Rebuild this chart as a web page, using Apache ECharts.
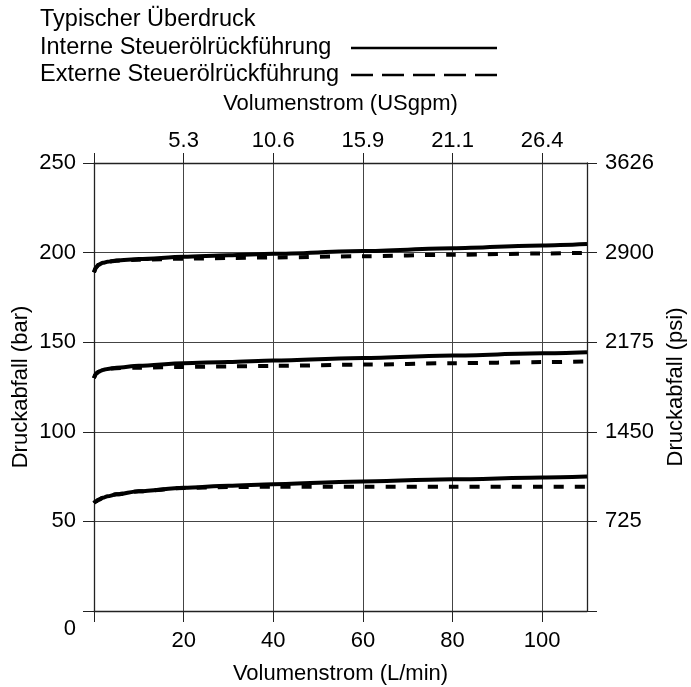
<!DOCTYPE html>
<html>
<head>
<meta charset="utf-8">
<script src="https://cdn.jsdelivr.net/npm/echarts@6/dist/echarts.min.js"></script>
<style>
  html, body { margin: 0; padding: 0; background: #fff; }
  #chart { width: 691px; height: 687px; }
</style>
</head>
<body>
<div id="chart"></div>
<script>
// Volumenstrom in L/min
var flow = [0, 0.5, 1, 2, 3, 5, 10, 20, 30, 40, 60, 80, 100, 110];

// Druckabfall in bar, drei Einstellungen
var highIntern = [189, 191.8, 193.2, 194.3, 194.9, 195.6, 196.4, 197.7, 198.5, 199.3, 200.9, 202.4, 204, 204.8];
var highExtern = [189, 191.8, 193.2, 194.3, 194.9, 195.5, 196, 196.6, 197, 197.3, 198, 198.8, 199.5, 199.9];
var midIntern = [130, 132.5, 133.5, 134.5, 135.1, 135.8, 136.8, 138.3, 139, 139.8, 141.2, 142.6, 143.8, 144.4];
var midExtern = [130, 132.5, 133.5, 134.5, 135, 135.5, 135.8, 136.2, 136.5, 136.8, 137.5, 138.3, 138.9, 139.2];
var lowIntern = [60.3, 61.3, 62.1, 63.2, 64, 65.1, 66.8, 68.8, 69.9, 70.8, 72.3, 73.5, 74.5, 75];
var lowExtern = [60.3, 61.3, 62.1, 63.2, 64, 65.1, 66.8, 68.6, 69.2, 69.3, 69.4, 69.4, 69.3, 69.3];

// Achsbeschriftungen
var flowTicks = [20, 40, 60, 80, 100];
var usgpmLabels = ['5.3', '10.6', '15.9', '21.1', '26.4'];
var barTicks = [0, 50, 100, 150, 200, 250];
var psiLabels = ['', '725', '1450', '2175', '2900', '3626'];

var nameIntern = 'Interne Steuerölrückführung';
var nameExtern = 'Externe Steuerölrückführung';

function pairs(ys) {
  return flow.map(function (x, i) { return [x, ys[i]]; });
}

var chartDom = document.getElementById('chart');
var myChart = echarts.init(chartDom);
var font = 'Liberation Sans, Arial, sans-serif';
var gridColor = '#444';

function solid(ys) {
  return {
    name: nameIntern, type: 'line', data: pairs(ys), symbol: 'none',
    smooth: 0.3, smoothMonotone: 'x', z: 4,
    lineStyle: { color: '#000', width: 4 }, itemStyle: { color: '#000' }
  };
}
function dashed(ys) {
  return {
    name: nameExtern, type: 'line', data: pairs(ys), symbol: 'none',
    smooth: 0.3, smoothMonotone: 'x', z: 3,
    lineStyle: { color: '#000', width: 4, type: [10, 11] }, itemStyle: { color: '#000' }
  };
}

var option = {
  animation: false,
  textStyle: { fontFamily: font, color: '#000' },
  title: {
    text: 'Typischer Überdruck',
    left: 35, top: 3,
    textStyle: { fontSize: 23.5, fontWeight: 'normal', color: '#000', fontFamily: font }
  },
  legend: {
    orient: 'vertical',
    left: 35, top: 31,
    align: 'right',
    itemWidth: 146, itemHeight: 14, itemGap: 3,
    formatter: function (name) { return '{t|' + name + '}'; },
    textStyle: {
      fontSize: 23.5, color: '#000', fontFamily: font,
      rich: { t: { fontSize: 23.5, color: '#000', fontFamily: font, width: 306, align: 'left' } }
    },
    data: [
      { name: nameIntern, itemStyle: { opacity: 0 }, lineStyle: { width: 2.5, color: '#000' } },
      { name: nameExtern, itemStyle: { opacity: 0 }, lineStyle: { width: 2.5, color: '#000', type: [22, 9] } }
    ]
  },
  grid: { left: 94, right: 104, top: 163, bottom: 76, outerBoundsMode: 'none' },
  xAxis: [
    {
      type: 'value', position: 'bottom', min: 0, max: 110, interval: 20,
      name: 'Volumenstrom (L/min)', nameLocation: 'middle', nameGap: 52, nameMoveOverlap: false,
      nameTextStyle: { fontSize: 22, color: '#000' },
      axisLine: { show: true, onZero: false, lineStyle: { color: '#222', width: 1.3 } },
      axisTick: { show: true, inside: false, length: 11, customValues: [0].concat(flowTicks), lineStyle: { color: '#222' } },
      axisLabel: { fontSize: 22, color: '#000', margin: 19, customValues: flowTicks },
      splitLine: { show: true, lineStyle: { color: gridColor, width: 1 } }
    },
    {
      type: 'value', position: 'top', min: 0, max: 110, interval: 20,
      name: 'Volumenstrom (USgpm)', nameLocation: 'middle', nameGap: 48, nameMoveOverlap: false,
      nameTextStyle: { fontSize: 22, color: '#000' },
      axisLine: { show: true, onZero: false, lineStyle: { color: '#222', width: 1.3 } },
      axisTick: { show: true, inside: false, length: 10, customValues: [0].concat(flowTicks), lineStyle: { color: '#222' } },
      axisLabel: {
        fontSize: 22, color: '#000', margin: 11, customValues: flowTicks,
        formatter: function (v) { return usgpmLabels[flowTicks.indexOf(v)] || ''; }
      },
      splitLine: { show: false }
    }
  ],
  yAxis: [
    {
      type: 'value', position: 'left', min: 0, max: 250, interval: 50,
      name: 'Druckabfall (bar)', nameLocation: 'middle', nameGap: 62, nameMoveOverlap: false,
      nameTextStyle: { fontSize: 22, color: '#000' },
      axisLine: { show: true, onZero: false, lineStyle: { color: '#222', width: 1.3 } },
      axisTick: { show: true, inside: false, length: 11, lineStyle: { color: '#222' } },
      axisLabel: {
        fontSize: 22, color: '#000', margin: 18,
        formatter: function (v) { return v === 0 ? '{zero|0}' : String(v); },
        rich: { zero: { fontSize: 22, color: '#000', padding: [36, 0, 0, 0] } }
      },
      splitLine: { show: true, lineStyle: { color: gridColor, width: 1 } }
    },
    {
      type: 'value', position: 'right', min: 0, max: 250, interval: 50,
      name: 'Druckabfall (psi)', nameLocation: 'middle', nameGap: 78, nameMoveOverlap: false,
      nameTextStyle: { fontSize: 22, color: '#000' },
      axisLine: { show: true, onZero: false, lineStyle: { color: '#222', width: 1.3 } },
      axisTick: { show: true, inside: false, length: 10, lineStyle: { color: '#222' } },
      axisLabel: {
        fontSize: 22, color: '#000', margin: 18,
        formatter: function (v) { return psiLabels[barTicks.indexOf(v)] || ''; }
      },
      splitLine: { show: false }
    }
  ],
  series: [
    dashed(highExtern), solid(highIntern),
    dashed(midExtern), solid(midIntern),
    dashed(lowExtern), solid(lowIntern)
  ]
};

myChart.setOption(option);
</script>
</body>
</html>
